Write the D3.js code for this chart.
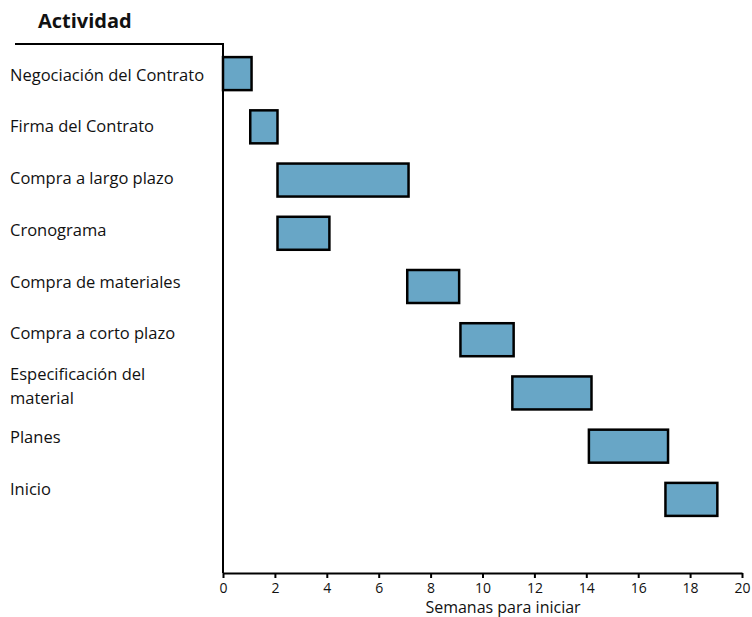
<!DOCTYPE html>
<html>
<head>
<meta charset="utf-8">
<script src="https://cdn.jsdelivr.net/npm/d3@7"></script>
<style>
  body { margin: 0; background: #fff; }
  text { font-family: "Open Sans", "Noto Sans", sans-serif; fill: #111; }
</style>
</head>
<body>
<div id="chart"></div>
<script>
// Activities and their start / end week
const activities = [
  "Negociación del Contrato",
  "Firma del Contrato",
  "Compra a largo plazo",
  "Cronograma",
  "Compra de materiales",
  "Compra a corto plazo",
  "Especificación del material",
  "Planes",
  "Inicio",
];
const starts = [0, 1.05, 2.1, 2.1, 7.1, 9.15, 11.15, 14.1, 17.05];
const ends = [1.1, 2.1, 7.15, 4.1, 9.1, 11.2, 14.2, 17.15, 19.05];
const weekTicks = [0, 2, 4, 6, 8, 10, 12, 14, 16, 18, 20];

const width = 752, height = 617;
const margin = { top: 44, left: 223, right: 10, bottom: 44 };

const svg = d3
  .select("#chart")
  .append("svg")
  .attr("width", width)
  .attr("height", height);

const x = d3.scaleLinear().domain([0, 20]).range([margin.left, 742]);
const y = d3
  .scaleBand()
  .domain(activities)
  .range([47, 526])
  .paddingInner(0.38)
  .paddingOuter(0.19);

// labels sit a little off the bars in the original
const yLabel = d3.scalePoint().domain(activities).range([74, 488]);

const axisY = 573;

// title
svg
  .append("text")
  .attr("x", 38)
  .attr("y", 28)
  .attr("font-size", "20px")
  .attr("font-weight", "bold")
  .text("Actividad");

// bars
svg
  .selectAll("rect.bar")
  .data(activities)
  .enter()
  .append("rect")
  .attr("class", "bar")
  .attr("x", (d, i) => x(starts[i]))
  .attr("y", (d) => y(d))
  .attr("width", (d, i) => x(ends[i]) - x(starts[i]))
  .attr("height", y.bandwidth())
  .attr("fill", "#68a6c6")
  .attr("stroke", "#000")
  .attr("stroke-width", 2.5);

// frame: top rule + left axis line
svg
  .append("path")
  .attr("d", `M15,${margin.top}H${margin.left}V${axisY}`)
  .attr("fill", "none")
  .attr("stroke", "#000")
  .attr("stroke-width", 2);

// activity labels
const labels = svg
  .selectAll("text.act")
  .data(activities)
  .enter()
  .append("text")
  .attr("class", "act")
  .attr("x", 10)
  .attr("y", (d) => yLabel(d))
  .attr("font-size", "16.5px")
  .attr("dominant-baseline", "central");

labels.each(function (d) {
  const t = d3.select(this);
  if (d === "Especificación del material") {
    t.append("tspan").attr("x", 10).attr("dy", "-0.72em").text("Especificación del");
    t.append("tspan").attr("x", 10).attr("dy", "1.45em").text("material");
  } else {
    t.text(d);
  }
});

// x axis
const xAxis = svg
  .append("g")
  .attr("transform", `translate(0,${axisY})`)
  .call(d3.axisBottom(x).tickValues(weekTicks).tickSize(5).tickSizeOuter(0));

xAxis.select(".domain").attr("stroke", "#000").attr("stroke-width", 2);
xAxis.selectAll(".tick line").attr("stroke", "#000").attr("stroke-width", 2);
xAxis
  .selectAll(".tick text")
  .attr("font-family", "Open Sans, Noto Sans, sans-serif")
  .attr("font-size", "14px")
  .attr("fill", "#222")
  .attr("y", 9)
  .attr("dy", "0.75em");

svg
  .append("text")
  .attr("x", 503)
  .attr("y", 613)
  .attr("text-anchor", "middle")
  .attr("font-size", "16px")
  .text("Semanas para iniciar");
</script>
</body>
</html>
